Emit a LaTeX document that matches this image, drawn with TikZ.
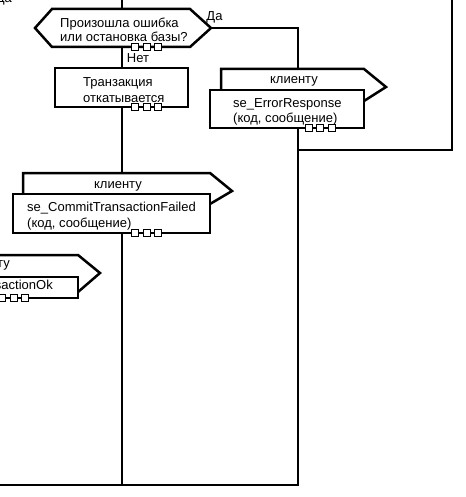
\documentclass[tikz,border=0pt]{standalone}
\usepackage{fontspec}
\setmainfont{Liberation Sans}
\tikzset{
  conn/.style={draw, line width=2.5pt},
  box/.style={draw, line width=2.5pt, fill=white, inner sep=0pt},
  flag/.style={draw, line width=2.5pt, fill=white},
  port/.style={draw, line width=1pt, fill=white, minimum size=7pt, inner sep=0pt},
  txt/.style={inner sep=0pt, align=left, font=\fontsize{13}{15.5}\selectfont},
  ports/.pic={
    \node[port] (-a) at (-11.5,0) {};
    \node[port] (-b) at (0,0) {};
    \node[port] (-c) at (11.5,0) {};
  }
}
\begin{document}
\begin{tikzpicture}[x=1pt,y=-1pt]
\useasboundingbox (0,0) rectangle (465,497);
\clip (0,0) rectangle (465,497);

% coordinates
\coordinate (hexW) at (35,28);
\coordinate (hexN) at (122,9);
\coordinate (hexS) at (122,47);
\coordinate (hexE) at (211,28);
\coordinate (top) at (122,-5);
\coordinate (f1top) at (298,69);
\coordinate (f2top) at (122,173);
\coordinate (bl) at (122,485);
\coordinate (br) at (298,485);
\coordinate (lend) at (-5,485);
\coordinate (jn) at (298,150);
\coordinate (tr) at (452,-5);

% boxes (nodes defined first for anchors, drawn later)
\path (121.5,87.5) node[minimum width=133pt, minimum height=39pt, inner sep=0pt] (rb) {};
\path (287,109) node[minimum width=154pt, minimum height=38pt, inner sep=0pt] (b1) {};
\path (111.5,213.5) node[minimum width=197pt, minimum height=39pt, inner sep=0pt] (b2) {};
\path (-21,287.5) node[minimum width=198pt, minimum height=21pt, inner sep=0pt] (b3) {};

% connectors
\draw[conn] (top) -- (hexN);
\draw[conn] (hexS) -- (hexS |- rb.north);
\draw[conn] (hexS |- rb.south) -- (f2top);
\draw[conn] (f2top |- b2.south) -- (bl);
\draw[conn] (hexE) -| (f1top);
\draw[conn] (b1.south -| f1top) -- (br) -- (lend);
\draw[conn] (jn) -| (tr);

% decision hexagon
\draw[flag] (hexW) -- (52,9) -- (190,9) -- (hexE) -- (190,47) -- (52,47) -- cycle;

% flags
\draw[flag] (221,90) -- (221,69) -- (364,69) -- (386,87) -- (364,101);
\draw[flag] (23,194) -- (23,173) -- (210,173) -- (232,191) -- (210,204);
\draw[flag] (-110,277) -- (-110,255) -- (78,255) -- (100,273) -- (78,292);

% boxes
\draw[box] (rb.north west) rectangle (rb.south east);
\draw[box] (b1.north west) rectangle (b1.south east);
\draw[box] (b2.north west) rectangle (b2.south east);
\draw[box] (b3.north west) rectangle (b3.south east);

% texts
\node[txt, anchor=west, font=\fontsize{13}{14.5}\selectfont] (q) at (60,30) {Произошла ошибка\\или остановка базы?};
\node[txt] (yes) at (214.5,17.5) {Да};
\node[txt] (no) at (138,58) {Нет};
\node[txt, anchor=east] (yes0) at (12,-1) {Да};
\node[txt, anchor=west, font=\fontsize{13}{16}\selectfont] (rbt) at (83,90) {Транзакция\\откатывается};
\node[txt] (c1) at (294,81.5) {клиенту};
\node[txt, anchor=west] (b1t) at (233,112) {se\_ErrorResponse\\(код, сообщение)};
\node[txt] (c2) at (118,186) {клиенту};
\node[txt, anchor=west] (b2t) at (27,216) {se\_CommitTransactionFailed\\(код, сообщение)};
\node[txt, anchor=east] (c3) at (10,265.5) {клиенту};
\node[txt, anchor=east] (b3t) at (53,286) {se\_CommitTransactionOk};

% ports
\pic (p0) at (146.5,47) {ports};
\pic (p1) at (146.5,107) {ports};
\pic (p2) at (320,128) {ports};
\pic (p3) at (146.5,233) {ports};
\pic (p4) at (13.5,298) {ports};
\end{tikzpicture}
\end{document}
